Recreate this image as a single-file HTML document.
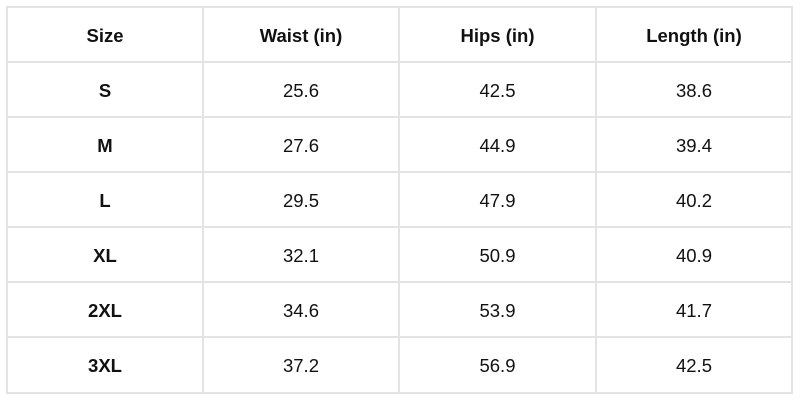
<!DOCTYPE html>
<html><head><style>
html,body{margin:0;padding:0;width:800px;height:400px;background:#fff;overflow:hidden}
.c{position:absolute;display:flex;align-items:center;justify-content:center;font-family:"Liberation Sans",sans-serif;font-size:18.5px;color:#111;box-sizing:border-box;border-right:2px solid #e3e3e3;border-bottom:2px solid #e3e3e3;padding-top:2px}
.b{font-weight:bold}
</style></head><body>
<div style="position:absolute;left:6px;top:6px;width:787px;height:388px;border-left:2px solid #e3e3e3;border-top:2px solid #e3e3e3;box-sizing:border-box"></div>
<div id="t"></div>
<script>
const rows=[["Size","Waist (in)","Hips (in)","Length (in)"],["S","25.6","42.5","38.6"],["M","27.6","44.9","39.4"],["L","29.5","47.9","40.2"],["XL","32.1","50.9","40.9"],["2XL","34.6","53.9","41.7"],["3XL","37.2","56.9","42.5"]];
const xs=[8,204,400,597,793],ys=[8,63,118,173,228,283,338,394];
let h="";
rows.forEach((r,i)=>r.forEach((v,j)=>{
const b=(i==0||j==0)?" b":"";
h+=`<div class="c${b}" style="left:${xs[j]}px;top:${ys[i]}px;width:${xs[j+1]-xs[j]}px;height:${ys[i+1]-ys[i]}px">${v}</div>`;}));
document.getElementById("t").innerHTML=h;
</script>
</body></html>
